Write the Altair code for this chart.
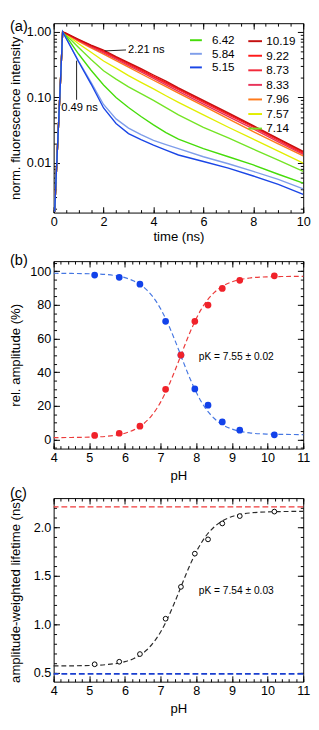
import altair as alt
import pandas as pd

FONT = "Liberation Sans"

# ---------------- panel (a): normalised decay curves ----------------
rise_t = [0.04, 0.12, 0.20, 0.28, 0.36]
rise_v = [0.0018, 0.009, 0.042, 0.20, 1.0]
decay_t = [0.5, 1.0, 1.5, 2.0, 2.5, 3.0, 3.5, 4.0, 4.5, 5.0, 6.0, 7.0, 8.0, 9.0, 10.0]

warm_ph = ["10.19", "9.22", "8.73", "8.33", "7.96", "7.57", "7.14"]
warm_colors = ["#c41010", "#ff1a1a", "#f22a3a", "#e8345a", "#ff7a1a", "#e2ee00", "#74e424"]
cool_ph = ["6.42", "5.84", "5.15"]
cool_colors = ["#46dc0a", "#7f9eea", "#1a46e6"]

decay_values = {
    "10.19": [0.95, 0.77, 0.63, 0.53, 0.42, 0.34, 0.275, 0.22, 0.177, 0.14, 0.090, 0.058, 0.037, 0.0235, 0.0150],
    "9.22":  [0.95, 0.76, 0.62, 0.51, 0.41, 0.33, 0.265, 0.21, 0.170, 0.135, 0.087, 0.056, 0.036, 0.0230, 0.0145],
    "8.73":  [0.95, 0.75, 0.61, 0.50, 0.40, 0.32, 0.257, 0.205, 0.164, 0.131, 0.084, 0.054, 0.035, 0.0220, 0.0140],
    "8.33":  [0.94, 0.74, 0.59, 0.48, 0.385, 0.305, 0.245, 0.195, 0.156, 0.124, 0.079, 0.051, 0.033, 0.0210, 0.0135],
    "7.96":  [0.94, 0.72, 0.57, 0.46, 0.365, 0.29, 0.230, 0.183, 0.146, 0.116, 0.074, 0.047, 0.030, 0.0195, 0.0128],
    "7.57":  [0.92, 0.66, 0.49, 0.36, 0.28, 0.215, 0.170, 0.135, 0.106, 0.084, 0.054, 0.035, 0.023, 0.0151, 0.0099],
    "7.14":  [0.90, 0.58, 0.38, 0.255, 0.19, 0.145, 0.114, 0.090, 0.070, 0.054, 0.035, 0.024, 0.0162, 0.0110, 0.0074],
    "6.42":  [0.86, 0.46, 0.26, 0.155, 0.10, 0.070, 0.051, 0.038, 0.029, 0.023, 0.0165, 0.0124, 0.0093, 0.0067, 0.0049],
    "5.84":  [0.80, 0.36, 0.17, 0.078, 0.047, 0.034, 0.027, 0.022, 0.019, 0.0165, 0.0124, 0.0097, 0.0074, 0.0056, 0.0040],
    "5.15":  [0.80, 0.35, 0.16, 0.069, 0.040, 0.028, 0.0226, 0.0186, 0.0156, 0.0132, 0.0105, 0.0083, 0.0063, 0.0047, 0.0033],
}

# annotation segments of panel (a)
ann_seg_id = ["slow", "slow", "fast", "fast"]
ann_seg_t = [2.05, 2.90, 0.92, 0.92]
ann_seg_v = [0.513, 0.531, 0.364, 0.092]
ann_txt = ["2.21 ns", "0.49 ns"]
ann_txt_t = [2.98, 1.04]
ann_txt_v = [0.53, 0.069]

# ---------------- panel (b): relative amplitudes ----------------
ph_points = [5.15, 5.84, 6.42, 7.14, 7.57, 7.96, 8.33, 8.73, 9.22, 10.19]
amp_fast = [97.7, 96.4, 92.3, 70.3, 50.2, 30.1, 20.5, 10.5, 5.6, 2.9]
amp_slow = [2.5, 3.8, 8.0, 29.9, 50.2, 70.3, 79.9, 89.8, 94.6, 97.3]

fit_ph = [4, 4.5, 5, 5.5, 6, 6.25, 6.5, 6.625, 6.75, 6.875, 7, 7.125, 7.25, 7.375, 7.5,
          7.625, 7.75, 7.875, 8, 8.125, 8.25, 8.5, 8.75, 9, 9.5, 10, 10.5, 11]
fit_slow = [1.2, 1.3, 1.5, 2.0, 3.8, 5.8, 9.0, 11.4, 14.3, 17.9, 22.3, 27.4, 33.2, 39.6, 46.3,
            53.2, 59.9, 66.2, 71.9, 76.9, 81.1, 87.3, 91.3, 93.7, 96.0, 96.7, 96.9, 97.0]
fit_fast = [98.8, 98.7, 98.5, 98.0, 96.2, 94.2, 91.0, 88.6, 85.7, 82.1, 77.7, 72.6, 66.8, 60.4, 53.7,
            46.8, 40.1, 33.8, 28.1, 23.1, 18.9, 12.7, 8.7, 6.3, 4.0, 3.3, 3.1, 3.0]
pk_b_text = "pK = 7.55 ± 0.02"

# ---------------- panel (c): amplitude-weighted lifetime ----------------
tau_points = [0.589, 0.615, 0.694, 1.058, 1.386, 1.728, 1.875, 2.039, 2.115, 2.161]
fit_tau = [0.572, 0.573, 0.576, 0.586, 0.616, 0.648, 0.702, 0.741, 0.790, 0.850, 0.922, 1.007, 1.104,
           1.210, 1.322, 1.437, 1.548, 1.653, 1.747, 1.829, 1.899, 2.003, 2.069, 2.110, 2.147, 2.158,
           2.162, 2.164]
tau_slow = 2.21
tau_fast = 0.49
pk_c_text = "pK = 7.54 ± 0.03"

panel_labels = ["(a)", "(b)", "(c)"]

# ---------------- helpers ----------------
W = 257
TICK_FS = 13


def curve_frame(phs):
    rows = []
    for ph in phs:
        ts = rise_t + decay_t
        vs = rise_v + decay_values[ph]
        for i, (t, v) in enumerate(zip(ts, vs)):
            rows.append({"ph": ph, "t": t, "v": v, "i": i})
    return pd.DataFrame(rows)


def tick_axis(orient, vals, length):
    return alt.Axis(orient=orient, values=vals, offset=-length, tickSize=length,
                    labels=False, domain=False, grid=False, title=None, ticks=True,
                    tickColor="black", tickWidth=1)


def axis_layers(xs, ys, xdom0, ydom0, xmaj, xmin_, ymaj, ymin_, xlab, ylab, yfmt, xtitle_pad):
    base = pd.DataFrame({"fx": [xdom0], "fy": [ydom0]})
    layers = []
    lab = alt.Chart(base).mark_point(opacity=0).encode(
        x=alt.X("fx:Q", scale=xs, axis=alt.Axis(
            orient="bottom", values=xmaj, ticks=False, domain=False, grid=False,
            labelPadding=3, labelFontSize=TICK_FS, title=xlab, titleFontSize=13.5,
            titlePadding=xtitle_pad, labelFlush=False)),
        y=alt.Y("fy:Q", scale=ys, axis=alt.Axis(
            orient="left", values=ymaj, format=yfmt, ticks=False, domain=False, grid=False,
            labelPadding=3, labelFontSize=TICK_FS, title=ylab, titleFontSize=13.5,
            titleX=-39, titleBaseline="middle", labelFlush=False)),
    )
    layers.append(lab)
    for orient in ["bottom", "top"]:
        for vals, ln in [(xmaj, 6), (xmin_, 3)]:
            layers.append(alt.Chart(base).mark_point(opacity=0).encode(
                x=alt.X("fx:Q", scale=xs, axis=tick_axis(orient, vals, ln)),
                y=alt.Y("fy:Q", scale=ys, axis=None)))
    for orient in ["left", "right"]:
        for vals, ln in [(ymaj, 6), (ymin_, 3)]:
            layers.append(alt.Chart(base).mark_point(opacity=0).encode(
                x=alt.X("fx:Q", scale=xs, axis=None),
                y=alt.Y("fy:Q", scale=ys, axis=tick_axis(orient, vals, ln))))
    return layers


def label_layer(txt, ypos):
    return alt.Chart(pd.DataFrame({"lab": [txt]})).mark_text(
        font=FONT, fontSize=15, align="left", baseline="middle", color="black").encode(
        text="lab:N", x=alt.value(-45), y=alt.value(ypos))


# ---------------- build panel (a) ----------------
xs_a = alt.Scale(domain=[0, 10], nice=False, zero=False)
ys_a = alt.Scale(type="log", domain=[0.00174, 1.36], nice=False)

warm_df = curve_frame(list(reversed(warm_ph)))
cool_df = curve_frame(cool_ph)

warm = alt.Chart(warm_df).mark_line(strokeWidth=1.4, clip=True).encode(
    x=alt.X("t:Q", scale=xs_a, axis=None),
    y=alt.Y("v:Q", scale=ys_a, axis=None),
    color=alt.Color("ph:N", scale=alt.Scale(domain=warm_ph, range=warm_colors),
                    legend=alt.Legend(orient="none", legendX=199, legendY=10, title=None,
                                      symbolType="stroke", symbolStrokeWidth=2, symbolSize=200,
                                      labelFontSize=12, labelFont=FONT, labelOffset=3,
                                      rowPadding=0, padding=0)),
    order="i:Q",
)
cool = alt.Chart(cool_df).mark_line(strokeWidth=1.4, clip=True).encode(
    x=alt.X("t:Q", scale=xs_a, axis=None),
    y=alt.Y("v:Q", scale=ys_a, axis=None),
    color=alt.Color("ph:N", scale=alt.Scale(domain=cool_ph, range=cool_colors),
                    legend=alt.Legend(orient="none", legendX=139, legendY=10, title=None,
                                      symbolType="stroke", symbolStrokeWidth=2, symbolSize=150,
                                      labelFontSize=12, labelFont=FONT, labelOffset=9,
                                      rowPadding=0, padding=0)),
    order="i:Q",
)
seg_df = pd.DataFrame({"id": ann_seg_id, "t": ann_seg_t, "v": ann_seg_v})
segs = alt.Chart(seg_df).mark_line(color="black", strokeWidth=0.9).encode(
    x=alt.X("t:Q", scale=xs_a, axis=None), y=alt.Y("v:Q", scale=ys_a, axis=None), detail="id:N")
txt_df = pd.DataFrame({"txt": ann_txt, "t": ann_txt_t, "v": ann_txt_v})
txt_slow = alt.Chart(txt_df.iloc[[0]]).mark_text(font=FONT, fontSize=11.5, align="left",
                                                  baseline="middle", color="black").encode(
    x=alt.X("t:Q", scale=xs_a, axis=None), y=alt.Y("v:Q", scale=ys_a, axis=None), text="txt:N")
txt_fast = alt.Chart(txt_df.iloc[[1]]).mark_text(font=FONT, fontSize=11.5, align="center",
                                                  baseline="middle", color="black").encode(
    x=alt.X("t:Q", scale=xs_a, axis=None), y=alt.Y("v:Q", scale=ys_a, axis=None), text="txt:N")

xmaj_a = [0, 2, 4, 6, 8, 10]
xmin_a = [x / 2 for x in range(0, 21)]
ymaj_a = [0.01, 0.1, 1.0]
ymin_a = [m * d for d in [0.001, 0.01, 0.1] for m in range(2, 10)]

panel_a = alt.layer(
    warm, cool, segs, txt_slow, txt_fast, label_layer(panel_labels[0], 3),
    *axis_layers(xs_a, ys_a, 1, 0.1, xmaj_a, xmin_a, ymaj_a, ymin_a,
                 "time (ns)", "norm. fluorescence intensity", ".2f", 2),
).resolve_scale(color="independent").resolve_axis(x="independent", y="independent").properties(
    width=W, height=195)

# ---------------- build panel (b) ----------------
xs_b = alt.Scale(domain=[4, 11], nice=False, zero=False)
ys_b = alt.Scale(domain=[-5.3, 106], nice=False, zero=False)
fit_b_df = pd.DataFrame({"ph": fit_ph, "fast": fit_fast, "slow": fit_slow})
pts_b_df = pd.DataFrame({"ph": ph_points, "fast": amp_fast, "slow": amp_slow})

fit_fast_l = alt.Chart(fit_b_df).mark_line(color="#4677e2", strokeWidth=1.2, strokeDash=[5, 3],
                                           interpolate="monotone").encode(
    x=alt.X("ph:Q", scale=xs_b, axis=None), y=alt.Y("fast:Q", scale=ys_b, axis=None))
fit_slow_l = alt.Chart(fit_b_df).mark_line(color="#ec3b3b", strokeWidth=1.2, strokeDash=[5, 3],
                                           interpolate="monotone").encode(
    x=alt.X("ph:Q", scale=xs_b, axis=None), y=alt.Y("slow:Q", scale=ys_b, axis=None))
pts_fast = alt.Chart(pts_b_df).mark_circle(color="#1242ea", size=48, opacity=1).encode(
    x=alt.X("ph:Q", scale=xs_b, axis=None), y=alt.Y("fast:Q", scale=ys_b, axis=None))
pts_slow = alt.Chart(pts_b_df).mark_circle(color="#f0222a", size=48, opacity=1).encode(
    x=alt.X("ph:Q", scale=xs_b, axis=None), y=alt.Y("slow:Q", scale=ys_b, axis=None))
pk_b = alt.Chart(pd.DataFrame({"ph": [8.07], "y": [49.0], "txt": [pk_b_text]})).mark_text(
    font=FONT, fontSize=10.5, align="left", baseline="middle", color="black").encode(
    x=alt.X("ph:Q", scale=xs_b, axis=None), y=alt.Y("y:Q", scale=ys_b, axis=None), text="txt:N")

xmaj_b = [4, 5, 6, 7, 8, 9, 10, 11]
xmin_b = [round(4 + 0.2 * k, 1) for k in range(0, 36)]
ymaj_b = [0, 20, 40, 60, 80, 100]
ymin_b = [5 * k for k in range(-1, 22)]

panel_b = alt.layer(
    fit_fast_l, fit_slow_l, pts_fast, pts_slow, pk_b, label_layer(panel_labels[1], -1),
    *axis_layers(xs_b, ys_b, 5, 50, xmaj_b, xmin_b, ymaj_b, ymin_b,
                 "pH", "rel. amplitude (%)", "d", 5),
).resolve_axis(x="independent", y="independent").properties(width=W, height=193)

# ---------------- build panel (c) ----------------
xs_c = alt.Scale(domain=[4, 11], nice=False, zero=False)
ys_c = alt.Scale(domain=[0.41, 2.30], nice=False, zero=False)
fit_c_df = pd.DataFrame({"ph": fit_ph, "tau": fit_tau})
pts_c_df = pd.DataFrame({"ph": ph_points, "tau": tau_points})
ref_df = pd.DataFrame({"tau": [tau_slow, tau_fast], "kind": ["slow", "fast"]})

ref_slow = alt.Chart(ref_df.iloc[[0]]).mark_rule(color="#f03a3a", strokeWidth=1.1,
                                                 strokeDash=[6, 3]).encode(
    y=alt.Y("tau:Q", scale=ys_c, axis=None))
ref_fast = alt.Chart(ref_df.iloc[[1]]).mark_rule(color="#1a3fd0", strokeWidth=1.6,
                                                 strokeDash=[6, 3]).encode(
    y=alt.Y("tau:Q", scale=ys_c, axis=None))
fit_c = alt.Chart(fit_c_df).mark_line(color="#2a2a2a", strokeWidth=1.2, strokeDash=[5, 3],
                                      interpolate="monotone").encode(
    x=alt.X("ph:Q", scale=xs_c, axis=None), y=alt.Y("tau:Q", scale=ys_c, axis=None))
pts_c = alt.Chart(pts_c_df).mark_point(shape="circle", size=24, filled=True, fill="white",
                                       stroke="black", strokeWidth=1, opacity=1).encode(
    x=alt.X("ph:Q", scale=xs_c, axis=None), y=alt.Y("tau:Q", scale=ys_c, axis=None))
pk_c = alt.Chart(pd.DataFrame({"ph": [8.07], "y": [1.344], "txt": [pk_c_text]})).mark_text(
    font=FONT, fontSize=10.5, align="left", baseline="middle", color="black").encode(
    x=alt.X("ph:Q", scale=xs_c, axis=None), y=alt.Y("y:Q", scale=ys_c, axis=None), text="txt:N")

ymaj_c = [0.5, 1.0, 1.5, 2.0]
ymin_c = [round(0.5 + 0.1 * k, 1) for k in range(0, 18)]

panel_c = alt.layer(
    ref_slow, ref_fast, fit_c, pts_c, pk_c, label_layer(panel_labels[2], -5),
    *axis_layers(xs_c, ys_c, 5, 1.0, xmaj_b, xmin_b, ymaj_c, ymin_c,
                 "pH", "amplitude-weighted lifetime (ns)", ".1f", 5),
).resolve_axis(x="independent", y="independent").properties(width=W, height=189)

chart = alt.vconcat(panel_a, alt.vconcat(panel_b, panel_c, spacing=3), spacing=9).properties(
    padding={"left": 0, "top": 0, "right": 0, "bottom": 0}
).configure_view(stroke="black", strokeWidth=1).configure_axis(
    labelFont=FONT, titleFont=FONT, titleFontWeight="normal", labelColor="black", titleColor="black"
).configure_text(font=FONT)

chart.save("out.html", embed_options={"renderer": "svg", "actions": False})
